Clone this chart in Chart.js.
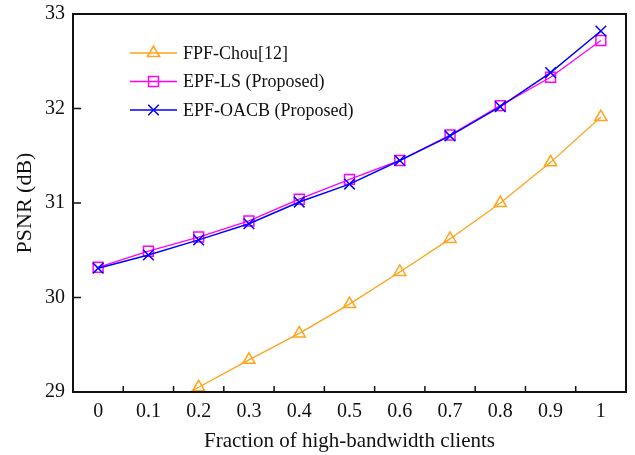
<!DOCTYPE html>
<html>
<head>
<meta charset="utf-8">
<script src="https://cdn.jsdelivr.net/npm/chart.js@4.4.0/dist/chart.umd.min.js"></script>
<style>
  html, body { margin: 0; padding: 0; background: #fff; }
</style>
</head>
<body>
<canvas id="psnrChart" width="635" height="455"></canvas>
<script>
// x categories (fraction of high-bandwidth clients)
var fractions = ["0", "0.1", "0.2", "0.3", "0.4", "0.5", "0.6", "0.7", "0.8", "0.9", "1"];

// PSNR values (dB)
var fpfChou = [28.48, 28.76, 29.05, 29.34, 29.62, 29.93, 30.27, 30.62, 31.00, 31.43, 31.91];
var epfLs   = [30.32, 30.49, 30.64, 30.81, 31.04, 31.25, 31.45, 31.72, 32.03, 32.33, 32.72];
var epfOacb = [30.31, 30.45, 30.61, 30.78, 31.01, 31.20, 31.45, 31.71, 32.02, 32.38, 32.82];

var serif = "'Liberation Serif', 'DejaVu Serif', serif";

// box round the plot plus inward tick marks
var framePlugin = {
    id: 'frame',
    afterDraw: function(chart) {
        var ctx = chart.ctx;
        var a = chart.chartArea;
        var xs = chart.scales.x;
        var ys = chart.scales.y;
        ctx.save();
        ctx.strokeStyle = '#111';
        ctx.lineWidth = 1.5;

        // x ticks sit between the categories
        var band = xs.getPixelForTick(1) - xs.getPixelForTick(0);
        ctx.beginPath();
        for (var i = 1; i < fractions.length; i++) {
            var px = xs.getPixelForTick(i) - band / 2;
            ctx.moveTo(px, a.bottom);
            ctx.lineTo(px, a.bottom - 6);
        }
        ys.ticks.forEach(function(t) {
            var py = ys.getPixelForValue(t.value);
            ctx.moveTo(a.left, py);
            ctx.lineTo(a.left + 8, py);
        });
        ctx.stroke();

        ctx.lineWidth = 2;
        ctx.strokeRect(a.left, a.top, a.right - a.left, a.bottom - a.top);
        ctx.restore();
    }
};

// legend drawn inside the plot: line sample with marker in the middle
var legendPlugin = {
    id: 'innerLegend',
    afterDraw: function(chart) {
        var ctx = chart.ctx;
        var a = chart.chartArea;
        ctx.save();
        chart.data.datasets.forEach(function(ds, i) {
            var x0 = a.left + 57;
            var y = a.top + 39 + i * 28.5;
            ctx.strokeStyle = ds.borderColor;
            ctx.lineWidth = ds.borderWidth;
            ctx.beginPath();
            ctx.moveTo(x0, y);
            ctx.lineTo(x0 + 47, y);
            ctx.stroke();
            ctx.lineWidth = ds.pointBorderWidth;
            ctx.fillStyle = 'rgba(0,0,0,0)';
            Chart.helpers.drawPoint(ctx, {
                pointStyle: ds.pointStyle,
                radius: ds.pointRadius,
                borderWidth: ds.pointBorderWidth,
                rotation: 0
            }, x0 + 23.5, y);
            ctx.fillStyle = '#111';
            ctx.font = '18px ' + serif;
            ctx.textBaseline = 'middle';
            ctx.textAlign = 'left';
            ctx.fillText(ds.label, x0 + 53, y + 1);
        });
        ctx.restore();
    }
};

var ctx = document.getElementById("psnrChart");
var psnrChart = new Chart(ctx, {
    type: 'line',
    data: {
        labels: fractions,
        datasets: [
            {
                label: 'FPF-Chou[12]',
                data: fpfChou,
                borderColor: '#ffa31a',
                backgroundColor: 'transparent',
                borderWidth: 1.3,
                pointStyle: 'triangle',
                pointRadius: 7,
                pointBorderWidth: 1.5,
                pointBorderColor: '#ffa31a',
                pointBackgroundColor: 'transparent',
                order: 2
            },
            {
                label: 'EPF-LS (Proposed)',
                data: epfLs,
                borderColor: '#ff00ff',
                backgroundColor: 'transparent',
                borderWidth: 1.3,
                pointStyle: 'rect',
                pointRadius: 7,
                pointBorderWidth: 1.5,
                pointBorderColor: '#ff00ff',
                pointBackgroundColor: 'transparent',
                order: 1
            },
            {
                label: 'EPF-OACB (Proposed)',
                data: epfOacb,
                borderColor: '#0000ff',
                backgroundColor: 'transparent',
                borderWidth: 1.5,
                pointStyle: 'crossRot',
                pointRadius: 7.5,
                pointBorderWidth: 1.5,
                pointBorderColor: '#0000ff',
                pointBackgroundColor: 'transparent',
                order: 0
            }
        ]
    },
    options: {
        responsive: false,
        animation: false,
        devicePixelRatio: 1,
        layout: { padding: { top: 14, right: 3, left: 0, bottom: 0 } },
        plugins: {
            legend: { display: false },
            tooltip: { enabled: false }
        },
        elements: { line: { tension: 0 } },
        scales: {
            x: {
                type: 'category',
                offset: true,
                grid: { display: false, offset: true },
                border: { display: false },
                ticks: {
                    color: '#111',
                    font: { family: serif, size: 20 },
                    padding: 0,
                    maxRotation: 0
                },
                title: {
                    display: true,
                    text: 'Fraction of high-bandwidth clients',
                    color: '#111',
                    font: { family: serif, size: 21 },
                    padding: { top: 2, bottom: 1 }
                },
                afterFit: function(scale) { scale.height = 63; }
            },
            y: {
                min: 29,
                max: 33,
                grid: { display: false },
                border: { display: false },
                ticks: {
                    stepSize: 1,
                    color: '#111',
                    font: { family: serif, size: 20 },
                    padding: 0
                },
                title: {
                    display: true,
                    text: 'PSNR (dB)',
                    color: '#111',
                    font: { family: serif, size: 22 },
                    padding: { top: 12, bottom: 0 }
                },
                afterFit: function(scale) { scale.width = 73; }
            }
        }
    },
    plugins: [framePlugin, legendPlugin]
});
</script>
</body>
</html>
